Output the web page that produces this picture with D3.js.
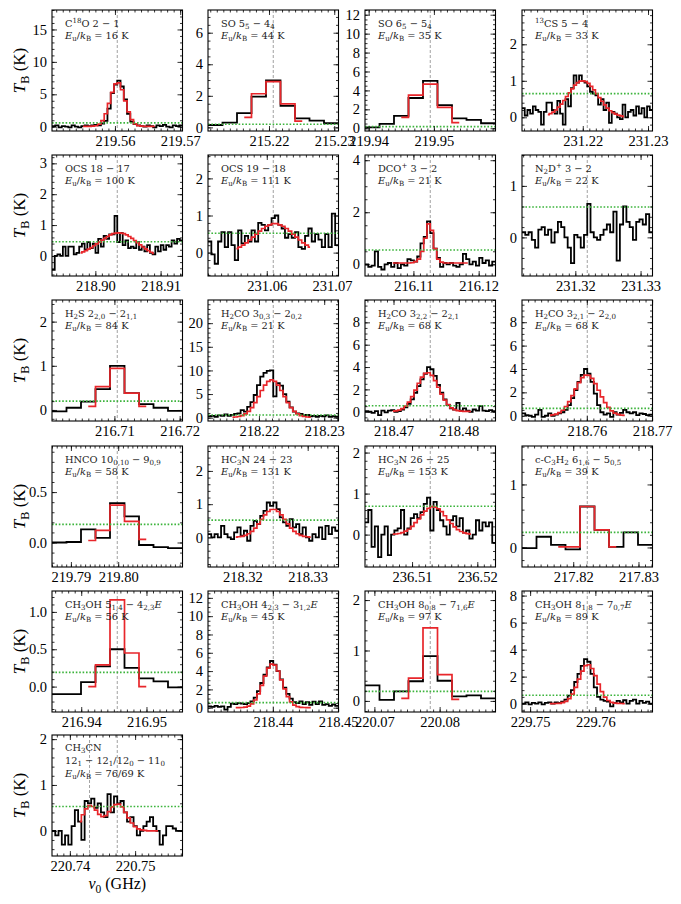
<!DOCTYPE html>
<html>
<head>
<meta charset="utf-8">
<script src="https://cdn.jsdelivr.net/npm/d3@7"></script>
<style>
  body { margin: 0; background: #fff; }
  svg { display: block; }
  text { white-space: pre; }
</style>
</head>
<body>
<div id="chart"></div>
<script>
// line labels, upper level energies, line frequencies (GHz)
const species = [
  'C^{18}O 2 − 1', 'SO 5_{5} − 4_{4}', 'SO 6_{5} − 5_{4}', '^{13}CS 5 − 4',
  'OCS 18 − 17', 'OCS 19 − 18', 'DCO^{+} 3 − 2', 'N_{2}D^{+} 3 − 2',
  'H_{2}S 2_{2,0} − 2_{1,1}', 'H_{2}CO 3_{0,3} − 2_{0,2}', 'H_{2}CO 3_{2,2} − 2_{2,1}', 'H_{2}CO 3_{2,1} − 2_{2,0}',
  'HNCO 10_{0,10} − 9_{0,9}', 'HC_{3}N 24 − 23', 'HC_{3}N 26 − 25', 'c-C_{3}H_{2} 6_{1,6} − 5_{0,5}',
  'CH_{3}OH 5_{1,4} − 4_{2,3}*E*', 'CH_{3}OH 4_{2,3} − 3_{1,2}*E*', 'CH_{3}OH 8_{0,8} − 7_{1,6}*E*', 'CH_{3}OH 8_{1,8} − 7_{0,7}*E*',
  'CH_{3}CN\n12_{1} − 12_{1}/12_{0} − 11_{0}'
];
const upperEnergy = ['16', '44', '35', '33', '100', '111', '21', '22', '84', '21', '68', '68',
  '58', '131', '153', '39', '56', '45', '97', '89', '76/69'];
const lineFreqs = [
  [219.560354], [215.220653], [219.949442], [231.220686],
  [218.903357], [231.060993], [216.112580], [231.321828],
  [216.710437], [218.222192], [218.475632], [218.760066],
  [219.7998], [218.324723], [236.512789], [217.822150],
  [216.945521], [218.440063], [220.078561], [229.758756],
  [220.743011, 220.747261]
];
const halfSpan = [0.01, 0.01, 0.01, 0.01, 0.01, 0.01, 0.01, 0.01, 0.01, 0.01, 0.01, 0.01,
  0.0138, 0.01, 0.01, 0.01, 0.01, 0.01, 0.01, 0.01, 0.01];

// axes
const xTicks = [
  [219.56, 219.57], [215.22, 215.23], [219.94, 219.95], [231.22, 231.23],
  [218.90, 218.91], [231.06, 231.07], [216.11, 216.12], [231.32, 231.33],
  [216.71, 216.72], [218.22, 218.23], [218.47, 218.48], [218.76, 218.77],
  [219.79, 219.80], [218.32, 218.33], [236.51, 236.52], [217.82, 217.83],
  [216.94, 216.95], [218.44, 218.45], [220.07, 220.08], [229.75, 229.76],
  [220.74, 220.75]
];
const yTicks = [
  [0, 5, 10, 15], [0, 2, 4, 6], [0, 2, 4, 6, 8, 10, 12], [0, 1, 2],
  [0, 1, 2, 3], [0, 1, 2], [0, 2, 4], [0, 1],
  [0, 1, 2], [0, 5, 10, 15, 20], [0, 2, 4, 6, 8], [0, 2, 4, 6, 8],
  [0, 0.5], [0, 1, 2], [0, 1, 2], [0, 1],
  [0, 0.5, 1], [0, 2, 4, 6, 8, 10, 12], [0, 1, 2], [0, 2, 4, 6, 8],
  [0, 1, 2]
];
const yRange = [
  [-0.66, 18.0], [-0.23, 7.44], [-0.29, 12.5], [-0.375, 2.94],
  [-0.65, 3.27], [-0.63, 2.63], [-0.45, 4.2], [-0.75, 1.6],
  [-0.25, 2.49], [-0.7, 24.9], [-0.83, 10.0], [-0.45, 9.9],
  [-0.243, 0.957], [-0.89, 2.75], [-0.79, 2.16], [-0.31, 1.61],
  [-0.34, 1.28], [-0.47, 12.75], [-0.22, 2.18], [-0.62, 8.34],
  [-0.55, 2.09]
];
const rmsLevel = [0.6, 0.2, 0.17, 0.65, 0.46, 0.52, 0.55, 0.59, 0.2, 0.57, 0.54, 0.63,
  0.18, 0.52, 0.69, 0.24, 0.19, 0.55, 0.19, 0.62, 0.53];

// observed brightness temperature (K), channels spread evenly over the panel
const obsT = [
  [0.1, 0.2, -0.1, 0.1, 0.0, -0.1, 0.2, 0.0, -0.1, 0.1, 0.2, 0.1, 0.2, 0.3, 0.2, 0.5, 0.9, 2.8, 5.2, 6.5,
   7.1, 6.2, 4.2, 2.0, 0.8, 0.4, 0.2, 0.1, 0.0, 0.2, 0.1, -0.1, 0.2, 0.1, 0.3, 0.0, -0.1, 0.2, 0.1, 0.2],
  [0.15, 0.3, 0.9, 1.95, 2.98, 1.36, 0.57, 0.43, 0.26],
  [0.1, 0.46, 1.3, 3.2, 5.0, 2.45, 1.05, 0.88, 0.53],
  [0.25, 0.05, 0.2, 0.1, 0.3, 0.2, 0.15, -0.2, 0.15, 0.4, 0.4, 0.2, 0.1, 0.45, 0.1, -0.2, 0.5, 0.3, 0.8, 1.15,
   0.95, 1.15, 1.0, 0.95, 0.85, 0.7, 0.65, 0.6, 0.35, 0.5, 0.2, 0.4, -0.15, 0.15, 0.1, 0.0, -0.05, 0.35, 0.0, 0.15,
   0.2, 0.05, 0.3, 0.1, 0.25, 0.0, 0.3, 0.2],
  [-0.45, 0.0, 0.05, 0.0, 0.3, 0.0, 0.3, 0.3, 0.05, 0.1, 0.3, 0.4, 0.2, 0.45, 0.25, 0.4, 0.1, 0.55, 0.3, 0.65,
   0.55, 0.7, 0.7, 1.3, 0.45, 0.75, 0.35, 0.5, 0.25, 0.3, 0.25, 0.45, 0.2, 0.3, 0.15, 0.35, 0.1, 0.05, 0.3, 0.15,
   0.35, 0.2, 0.35, 0.3, 0.5, 0.4, 0.55, 0.5],
  [0.3, -0.05, -0.3, 0.3, 0.55, 0.15, 0.55, 0.2, -0.2, 0.6, 0.25, 0.45, 0.3, 0.6, 0.3, 0.8, 0.75, 0.6, 0.75, 0.93,
   1.0, 0.75, 0.65, 0.4, 0.5, 0.4, 0.55, 0.15, 0.1, 0.45, 0.65, 0.3, 0.5, 0.35, 0.15, 0.5, 0.15, 1.05, 0.2],
  [0.0, -0.1, -0.05, 0.5, -0.1, -0.2, 0.0, 0.05, -0.1, 0.05, -0.15, 0.0, -0.05, 0.2, 0.15, 0.1, 0.3, 0.8, 1.05, 1.65,
   1.2, 0.6, 0.25, -0.1, 0.05, 0.0, 0.05, -0.05, -0.1, 0.0, 0.4, 0.2, 0.0, 0.1, -0.05, 0.25, 0.05, 0.15, -0.05, 0.1],
  [0.1, 0.05, 0.1, -0.05, -0.2, 0.15, 0.2, 0.05, 0.15, -0.1, 0.1, 0.3, 0.2, 0.0, -0.2, -0.5, 0.05, 0.0, -0.2, 0.05,
   0.65, 0.1, 0.0, -0.05, 0.05, 0.15, 0.25, 0.1, 0.5, -0.45, 0.25, 0.6, 0.3, 0.2, -0.05, 0.3, 0.35, 0.25, 0.45, 0.1],
  [-0.03, 0.05, 0.19, 0.47, 1.0, 0.38, 0.13, 0.05, -0.02],
  [0.3, 0.4, 0.2, 0.5, 0.4, 0.7, 0.4, 0.6, 0.8, 0.9, 1.6, 1.3, 2.3, 3.3, 4.8, 6.9, 8.7, 9.5, 9.9, 10.0,
   4.5, 7.3, 6.8, 5.0, 3.4, 2.2, 1.3, 0.9, 0.8, 0.5, 0.6, 0.3, 0.4, 0.2, 0.4, 0.3, 0.5, 0.2, 0.3, 0.2],
  [0.05, 0.0, -0.1, 0.05, -0.3, 0.1, -0.05, 0.1, 0.15, 0.0, 0.05, 0.2, 0.4, 0.7, 1.1, 1.7, 2.3, 2.9, 3.4, 4.0,
   3.8, 3.2, 2.4, 1.7, 1.1, 0.6, 0.3, 0.2, 0.8, 0.1, 0.3, 0.1, 0.0, 0.2, 0.1, 0.5, 0.1, 0.05, 0.15, 0.05],
  [0.2, 0.05, 0.0, -0.1, 0.1, 0.5, -0.1, 0.0, 0.2, 0.0, 0.1, 0.2, 0.3, 0.5, 0.9, 1.5, 2.2, 2.9, 3.5, 4.0,
   3.6, 2.9, 1.9, 0.9, 0.3, 0.1, 0.2, -0.1, 0.3, 0.1, 0.25, 0.5, 0.3, 0.2, 0.3, 0.05, 0.2, 0.15, 0.05, 0.1],
  [0.0, 0.005, 0.13, 0.045, 0.39, 0.26, -0.025, -0.045, -0.055],
  [0.1, 0.0, 0.1, 0.0, 0.35, 0.1, 0.0, -0.05, 0.15, 0.3, 0.05, 0.2, -0.1, 0.35, 0.5, 0.4, 0.65, 0.8, 1.05, 0.95,
   1.05, 0.85, 0.6, 0.45, 0.35, 0.55, 0.3, 0.4, 0.1, 0.3, 0.0, -0.1, 0.1, 0.0, 0.3, -0.05, 0.35, 0.1, 0.3, 0.2],
  [0.3, 0.6, -0.3, 0.2, -0.55, 0.0, 0.2, -0.5, 0.0, 0.1, 0.15, 0.6, 0.0, 0.15, 0.4, 0.5, 0.4, 0.55, 0.75, 0.9,
   0.1, 0.8, 0.6, 0.35, 0.2, 0.0, 0.35, 0.45, 0.2, 0.4, 0.05, 0.1, -0.1, 0.0, 0.35, 0.1, 0.3, 0.2, 0.3, -0.2],
  [-0.01, 0.17, 0.04, -0.03, 0.65, 0.28, 0.01, 0.24, 0.04],
  [-0.1, -0.1, 0.06, 0.27, 0.5, 0.25, 0.11, 0.07, -0.01],
  [0.15, 0.1, 0.2, 0.1, 0.15, -0.2, 0.1, 0.45, 0.4, 0.5, 0.45, 0.4, 0.5, 0.7, 1.1, 1.8, 2.7, 3.6, 4.4, 5.1,
   4.7, 4.0, 3.1, 2.2, 1.5, 1.0, 0.6, 0.5, 0.7, 0.4, 0.6, 0.3, 0.65, 0.4, 0.7, 0.3, 0.4, 0.2, 0.35, 0.2],
  [0.31, 0.02, 0.19, 0.39, 0.89, 0.4, 0.09, 0.11, 0.05],
  [0.0, 0.1, -0.05, 0.05, 0.0, 0.1, -0.05, 0.05, 0.1, 0.0, 0.1, 0.05, 0.15, 0.3, 0.6, 1.0, 1.6, 2.2, 2.8, 3.3,
   3.1, 2.2, 1.2, 0.5, 0.3, 0.2, 0.15, -0.2, 0.05, 0.2, 0.1, 0.25, 0.0, 0.2, 0.3, 0.0, 0.2, 0.05, 0.15, 0.0],
  [0.0, -0.1, 0.0, -0.3, -0.1, -0.3, 0.1, 0.45, 0.2, -0.2, 0.65, 0.6, 0.7, 0.5, 0.6, 0.4, 0.3, 0.8, 0.4, 0.75,
   0.6, 0.65, 0.4, 0.2, 0.3, 0.1, -0.1, 0.0, 0.1, 0.2, 0.3, 0.1, 0.0, -0.3, -0.1, 0.1, 0.1, 0.05, 0.0, 0.0]
];

// model fit, on the same channel grid, starting at channel fitFirst
const fitFirst = [9, 2, 2, 9, 10, 8, 8, null, 2, 7, 8, 8, 2, 8, 8, 2, 2, 8, 2, 8, 8];
const fitT = [
  [0.05, 0.05, 0.06, 0.08, 0.15, 0.4, 0.95, 2.0, 3.6, 5.3, 6.6, 6.75, 5.7, 4.0, 2.3, 1.1, 0.45, 0.18, 0.08, 0.05,
   0.05, 0.05, 0.05],
  [0.64, 2.13, 2.9, 1.49, 0.4],
  [1.15, 3.5, 4.67, 2.2, 0.6],
  [0.07, 0.10, 0.14, 0.20, 0.28, 0.36, 0.46, 0.57, 0.67, 0.78, 0.88, 0.95, 0.99, 1.0, 0.98, 0.93, 0.85, 0.75, 0.65, 0.54,
   0.44, 0.34, 0.25, 0.18, 0.13, 0.09, 0.06, 0.04, 0.02],
  [0.10, 0.13, 0.17, 0.22, 0.27, 0.33, 0.39, 0.45, 0.51, 0.57, 0.63, 0.68, 0.72, 0.74, 0.75, 0.74, 0.72, 0.68, 0.63, 0.57,
   0.50, 0.43, 0.36, 0.29, 0.23, 0.17, 0.12, 0.08],
  [0.11, 0.15, 0.20, 0.26, 0.34, 0.42, 0.50, 0.58, 0.65, 0.71, 0.75, 0.78, 0.78, 0.75, 0.71, 0.65, 0.58, 0.50, 0.42, 0.34,
   0.26, 0.20, 0.15],
  [0.05, 0.05, 0.05, 0.05, 0.05, 0.05, 0.06, 0.1, 0.2, 0.5, 1.0, 1.55, 1.3, 0.6, 0.2, 0.08, 0.05, 0.05, 0.05, 0.05,
   0.05, 0.05, 0.05, 0.05],
  [],
  [0.08, 0.53, 0.94, 0.38, 0.08],
  [0.1, 0.15, 0.25, 0.45, 0.8, 1.35, 2.15, 3.2, 4.45, 5.75, 6.9, 7.7, 8.0, 7.7, 6.9, 5.75, 4.45, 3.2, 2.15, 1.35,
   0.8, 0.45, 0.25, 0.15, 0.1],
  [0.05, 0.08, 0.15, 0.28, 0.5, 0.86, 1.35, 1.93, 2.55, 3.09, 3.43, 3.49, 3.26, 2.78, 2.19, 1.57, 1.04, 0.63, 0.35, 0.18,
   0.1, 0.06, 0.04, 0.03, 0.02],
  [0.03, 0.07, 0.14, 0.27, 0.47, 0.79, 1.21, 1.72, 2.29, 2.83, 3.26, 3.48, 3.45, 3.19, 2.74, 2.18, 1.62, 1.12, 0.71, 0.42,
   0.23, 0.12, 0.06, 0.03],
  [0.02, 0.12, 0.37, 0.21, 0.03],
  [0.01, 0.02, 0.03, 0.06, 0.11, 0.18, 0.28, 0.41, 0.54, 0.68, 0.78, 0.84, 0.84, 0.78, 0.68, 0.54, 0.41, 0.28, 0.18, 0.11,
   0.06, 0.03, 0.02, 0.01],
  [0.01, 0.014, 0.027, 0.05, 0.083, 0.13, 0.2, 0.29, 0.38, 0.48, 0.57, 0.64, 0.68, 0.67, 0.63, 0.56, 0.46, 0.36, 0.27, 0.19,
   0.12, 0.075, 0.044, 0.024, 0.012],
  [0.01, 0.01, 0.65, 0.28, 0.01],
  [0.0, 0.29, 1.16, 0.45, 0.0],
  [0.0, 0.0, 0.02, 0.07, 0.18, 0.41, 0.84, 1.52, 2.44, 3.45, 4.32, 4.77, 4.66, 4.01, 3.05, 2.05, 1.22, 0.64, 0.29, 0.12,
   0.04, 0.02, 0.01, 0.0],
  [0.05, 0.45, 1.45, 0.52, 0.03],
  [0.0, 0.0, 0.01, 0.02, 0.07, 0.17, 0.37, 0.71, 1.21, 1.82, 2.41, 2.81, 2.88, 2.6, 2.07, 1.45, 0.89, 0.48, 0.23, 0.1,
   0.04, 0.02, 0.01, 0.0],
  [0.2, 0.35, 0.48, 0.55, 0.53, 0.45, 0.36, 0.31, 0.33, 0.42, 0.52, 0.57, 0.58, 0.52, 0.4, 0.28, 0.17, 0.09, 0.04, 0.02,
   0.01, 0.0, 0.0, 0.0, 0.0]
];

const W = 681, H = 904;
const colX = [52, 208, 365, 522];
const rowY = [10, 155, 300, 446, 591, 735];
const PW = 130.5, PH = 121;
const SERIF = '"Liberation Serif", "Times New Roman", serif';
const NOTE_FONT = '"DejaVu Serif", serif';

const svg = d3.select('#chart').append('svg')
  .attr('width', W).attr('height', H)
  .attr('font-family', SERIF);

// tiny markup: _{sub} ^{sup} *italic*
function richText(sel, str, size) {
  const re = /([_^])\{([^}]*)\}|\*([^*]+)\*|([^_^*]+)/g;
  let m, shift = 0;
  while ((m = re.exec(str)) !== null) {
    let off = 0, fs = size, txt, italic = false;
    if (m[1]) {
      off = m[1] === '_' ? size * 0.25 : -size * 0.38;
      fs = size * 0.72;
      txt = m[2];
    } else if (m[3]) {
      italic = true;
      txt = m[3];
    } else {
      txt = m[4];
    }
    const ts = sel.append('tspan').attr('dy', off - shift).style('font-size', fs + 'px').text(txt);
    if (italic) ts.style('font-style', 'italic');
    shift = off;
  }
}

function minorStep(ticks) {
  const step = ticks[1] - ticks[0];
  const mant = step / Math.pow(10, Math.floor(Math.log10(step)));
  return step / ((Math.abs(mant - 1) < 1e-6 || Math.abs(mant - 5) < 1e-6) ? 5 : 4);
}

function styleAxis(g, size) {
  g.select('.domain').remove();
  g.selectAll('.tick line').attr('stroke', '#000').attr('stroke-width', 0.8);
  g.selectAll('.tick text').attr('font-family', SERIF).attr('font-size', size).attr('fill', '#000');
}

function drawPanel(k) {
  const col = k % 4, row = Math.floor(k / 4);
  const g = svg.append('g').attr('transform', `translate(${colX[col]},${rowY[row]})`);
  const center = lineFreqs[k][lineFreqs[k].length - 1];
  const lo = center - halfSpan[k], hi = center + halfSpan[k];
  const x = d3.scaleLinear().domain([lo, hi]).range([0, PW]);
  const y = d3.scaleLinear().domain(yRange[k]).range([PH, 0]);

  const clipId = 'clip' + k;
  g.append('clipPath').attr('id', clipId)
    .append('rect').attr('width', PW).attr('height', PH);
  const plot = g.append('g').attr('clip-path', `url(#${clipId})`);

  // line positions
  plot.selectAll('line.nu0').data(lineFreqs[k]).join('line')
    .attr('class', 'nu0')
    .attr('x1', d => x(d)).attr('x2', d => x(d))
    .attr('y1', 0).attr('y2', PH)
    .attr('stroke', '#8a8a8a').attr('stroke-width', 0.8).attr('stroke-dasharray', '3,2');

  // observed spectrum (bins)
  const obs = obsT[k];
  const dnu = (hi - lo) / obs.length;
  const obsPts = obs.map((v, i) => [lo + i * dnu, v]);
  obsPts.push([hi, obs[obs.length - 1]]);
  const stepAfter = d3.line().x(d => x(d[0])).y(d => y(d[1])).curve(d3.curveStepAfter);
  plot.append('path').attr('d', stepAfter(obsPts))
    .attr('fill', 'none').attr('stroke', '#000').attr('stroke-width', 1.8);

  // fit
  if (fitT[k].length) {
    const fitPts = fitT[k].map((v, j) => [lo + (fitFirst[k] + j + 0.5) * dnu, v]);
    const stepMid = d3.line().x(d => x(d[0])).y(d => y(d[1])).curve(d3.curveStep);
    plot.append('path').attr('d', stepMid(fitPts))
      .attr('fill', 'none').attr('stroke', '#e8262b').attr('stroke-width', 1.7);
  }

  // noise level
  plot.append('line')
    .attr('x1', 0).attr('x2', PW)
    .attr('y1', y(rmsLevel[k])).attr('y2', y(rmsLevel[k]))
    .attr('stroke', '#3cb43c').attr('stroke-width', 1.6).attr('stroke-dasharray', '1.6,1.8');

  // axes, ticks inside on all sides
  const xMinor = d3.range(Math.ceil(lo / 0.001), Math.floor(hi / 0.001) + 1).map(i => i * 0.001);
  const yStep = minorStep(yTicks[k]);
  const yMinor = d3.range(Math.ceil(yRange[k][0] / yStep), Math.floor(yRange[k][1] / yStep) + 1).map(i => i * yStep);
  const yFmt = (yTicks[k][1] - yTicks[k][0]) < 1 ? d3.format('.1f') : d3.format('d');

  const bx = g.append('g').attr('transform', `translate(0,${PH})`)
    .call(d3.axisBottom(x).tickValues(xTicks[k]).tickSize(-5).tickSizeOuter(0).tickPadding(5).tickFormat(d3.format('.2f')));
  styleAxis(bx, 14.5);
  styleAxis(g.append('g').attr('transform', `translate(0,${PH})`)
    .call(d3.axisBottom(x).tickValues(xMinor).tickSize(-2.5).tickSizeOuter(0).tickFormat('')), 0);
  styleAxis(g.append('g')
    .call(d3.axisTop(x).tickValues(xTicks[k]).tickSize(-5).tickSizeOuter(0).tickFormat('')), 0);
  styleAxis(g.append('g')
    .call(d3.axisTop(x).tickValues(xMinor).tickSize(-2.5).tickSizeOuter(0).tickFormat('')), 0);

  const ly = g.append('g')
    .call(d3.axisLeft(y).tickValues(yTicks[k]).tickSize(-5).tickSizeOuter(0).tickPadding(5).tickFormat(yFmt));
  styleAxis(ly, 14.5);
  styleAxis(g.append('g')
    .call(d3.axisLeft(y).tickValues(yMinor).tickSize(-2.5).tickSizeOuter(0).tickFormat('')), 0);
  styleAxis(g.append('g').attr('transform', `translate(${PW},0)`)
    .call(d3.axisRight(y).tickValues(yTicks[k]).tickSize(-5).tickSizeOuter(0).tickFormat('')), 0);
  styleAxis(g.append('g').attr('transform', `translate(${PW},0)`)
    .call(d3.axisRight(y).tickValues(yMinor).tickSize(-2.5).tickSizeOuter(0).tickFormat('')), 0);

  g.append('rect').attr('width', PW).attr('height', PH)
    .attr('fill', 'none').attr('stroke', '#000').attr('stroke-width', 1.1);

  // annotation
  const lines = species[k].split('\n');
  lines.push(`*E*_{u}/*k*_{B} = ${upperEnergy[k]} K`);
  const gap = lines.length > 2 ? 13 : 12;
  lines.forEach((s, i) => {
    const t = g.append('text')
      .attr('x', 13).attr('y', (lines.length > 2 ? 16 : 17) + i * gap)
      .attr('font-family', NOTE_FONT)
      .attr('fill', '#222');
    richText(t, s, 9.8);
  });
}

for (let k = 0; k < species.length; k++) drawPanel(k);

// axis titles
for (let r = 0; r < rowY.length; r++) {
  const t = svg.append('text')
    .attr('transform', `translate(25,${rowY[r] + PH / 2}) rotate(-90)`)
    .attr('text-anchor', 'middle');
  richText(t, '*T*_{B} (K)', 17);
}
const xt = svg.append('text')
  .attr('x', colX[0] + PW / 2).attr('y', rowY[5] + PH + 33)
  .attr('text-anchor', 'middle');
richText(xt, '*ν*_{0} (GHz)', 16);
</script>
</body>
</html>
